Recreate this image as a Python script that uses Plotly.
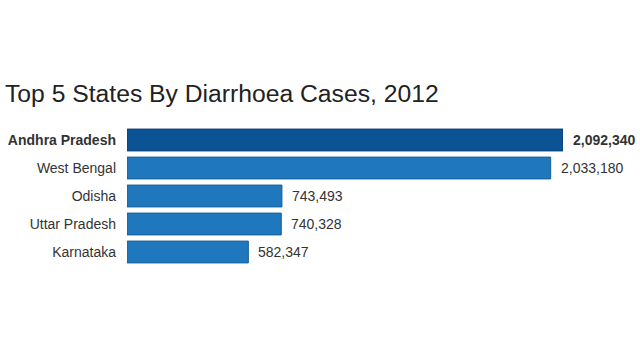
import plotly.graph_objects as go

states = ["Andhra Pradesh", "West Bengal", "Odisha", "Uttar Pradesh", "Karnataka"]
cases = [2092340, 2033180, 743493, 740328, 582347]
highlight = "Andhra Pradesh"
title_text = "Top 5 States By Diarrhoea Cases, 2012"

FONT = "Liberation Sans, Arial, Helvetica, sans-serif"

colors = ["#0b5394" if s == highlight else "#1f78bd" for s in states]
line_colors = ["#083f72" if s == highlight else "#185f98" for s in states]
ticktext = [f"<b>{s}</b>" if s == highlight else s for s in states]

fig = go.Figure(go.Bar(
    x=cases, y=states, orientation="h",
    marker=dict(color=colors, line=dict(color=line_colors, width=1)),
    hoverinfo="skip",
))

for s, v in zip(states, cases):
    label = f"{v:,}"
    if s == highlight:
        label = f"<b>{label}</b>"
    fig.add_annotation(x=v, y=s, text=label, showarrow=False, xanchor="left",
                       xshift=8, font=dict(size=14, color="#333333", family=FONT))

fig.update_layout(
    width=640, height=360,
    margin=dict(l=127, r=77, t=126, b=94, autoexpand=False),
    paper_bgcolor="white", plot_bgcolor="white",
    bargap=0.22,
    showlegend=False,
    title=dict(text=title_text, x=5/640, xref="container", xanchor="left",
               y=1-93/360, yref="container", yanchor="middle",
               font=dict(size=24.7, color="#222222", family=FONT)),
    xaxis=dict(range=[0, max(cases)], visible=False, fixedrange=True),
    yaxis=dict(categoryorder="array", categoryarray=states, autorange="reversed",
               tickmode="array", tickvals=states, ticktext=ticktext,
               showgrid=False, showline=False, zeroline=False,
               ticks="", ticklabelstandoff=10, automargin=False, fixedrange=True,
               tickfont=dict(size=14, color="#333333", family=FONT)),
)

fig.write_html("out.html", config={"displayModeBar": False},
               post_script="document.body.style.margin='0';")
